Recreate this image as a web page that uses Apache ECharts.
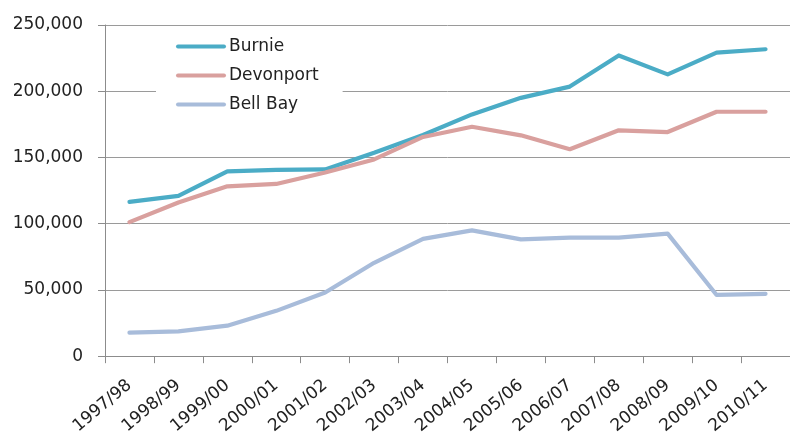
<!DOCTYPE html>
<html>
<head>
<meta charset="utf-8">
<script src="https://cdn.jsdelivr.net/npm/echarts@6/dist/echarts.min.js"></script>
<style>
html,body{margin:0;padding:0;background:#fff;}
#c{width:790px;height:437px;}
</style>
</head>
<body>
<div id="c"></div>
<script>
const categories = ['1997/98','1998/99','1999/00','2000/01','2001/02','2002/03','2003/04','2004/05','2005/06','2006/07','2007/08','2008/09','2009/10','2010/11'];
const burnie =    [116500, 121000, 139500, 140700, 141000, 153500, 167000, 182500, 195000, 203500, 227000, 212700, 229200, 231700];
const devonport = [101200, 116000, 128200, 130000, 138700, 148500, 165500, 173200, 166700, 156200, 170500, 169200, 184500, 184500];
const bellBay =   [17700, 18700, 23000, 34200, 48000, 70500, 88500, 95000, 88200, 89500, 89500, 92500, 46200, 47000];
const yTicks = [0, 50000, 100000, 150000, 200000, 250000];

const font = 'DejaVu Sans';
const chart = echarts.init(document.getElementById('c'), null, {renderer: 'canvas'});
function fmt(v){ return v.toString().replace(/\B(?=(\d{3})+(?!\d))/g, ','); }
const mk = (name, data, color) => ({
  name, type: 'line', data, symbol: 'none', smooth: false,
  lineStyle: {color, width: 4.2, cap: 'round', join: 'round'},
  itemStyle: {color},
  z: 3
});
chart.setOption({
  animation: false,
  backgroundColor: '#fff',
  grid: {left: 105, top: 25, width: 695, height: 333, containLabel: false},
  legend: {
    orient: 'vertical', left: 156, top: 33,
    backgroundColor: '#fff',
    padding: [5, 24, 6, 20],
    icon: 'path://M2,0L48,0A2,2 0 0 1 48,4L2,4A2,2 0 0 1 2,0Z',
    itemWidth: 50, itemHeight: 17, itemGap: 12,
    textStyle: {fontFamily: font, fontSize: 17, color: '#222', lineHeight: 17, padding: [0,0,0,-2]},
    data: ['Burnie', 'Devonport', 'Bell Bay']
  },
  xAxis: {
    type: 'category', data: categories, boundaryGap: true,
    axisLine: {show: true, lineStyle: {color: '#8c8c8c', width: 1}},
    axisTick: {show: true, length: 7, alignWithLabel: false, lineStyle: {color: '#8c8c8c'}},
    axisLabel: {rotate: 40, margin: 27, interval: 0, fontFamily: font, fontSize: 17, color: '#222'},
    splitLine: {show: false}
  },
  yAxis: {
    type: 'value', min: 0, max: 250000, interval: 50000,
    axisLine: {show: true, lineStyle: {color: '#8c8c8c', width: 1}},
    axisTick: {show: true, length: 7, lineStyle: {color: '#8c8c8c'}},
    axisLabel: {margin: 22, fontFamily: font, fontSize: 17, color: '#222',
      formatter: v => yTicks.includes(v) ? fmt(v) : ''},
    splitLine: {show: true, lineStyle: {color: '#9a9a9a', width: 1}}
  },
  series: [
    mk('Burnie', burnie, '#4bacc6'),
    mk('Devonport', devonport, '#d9a09e'),
    mk('Bell Bay', bellBay, '#a8bcda')
  ]
});
</script>
</body>
</html>
